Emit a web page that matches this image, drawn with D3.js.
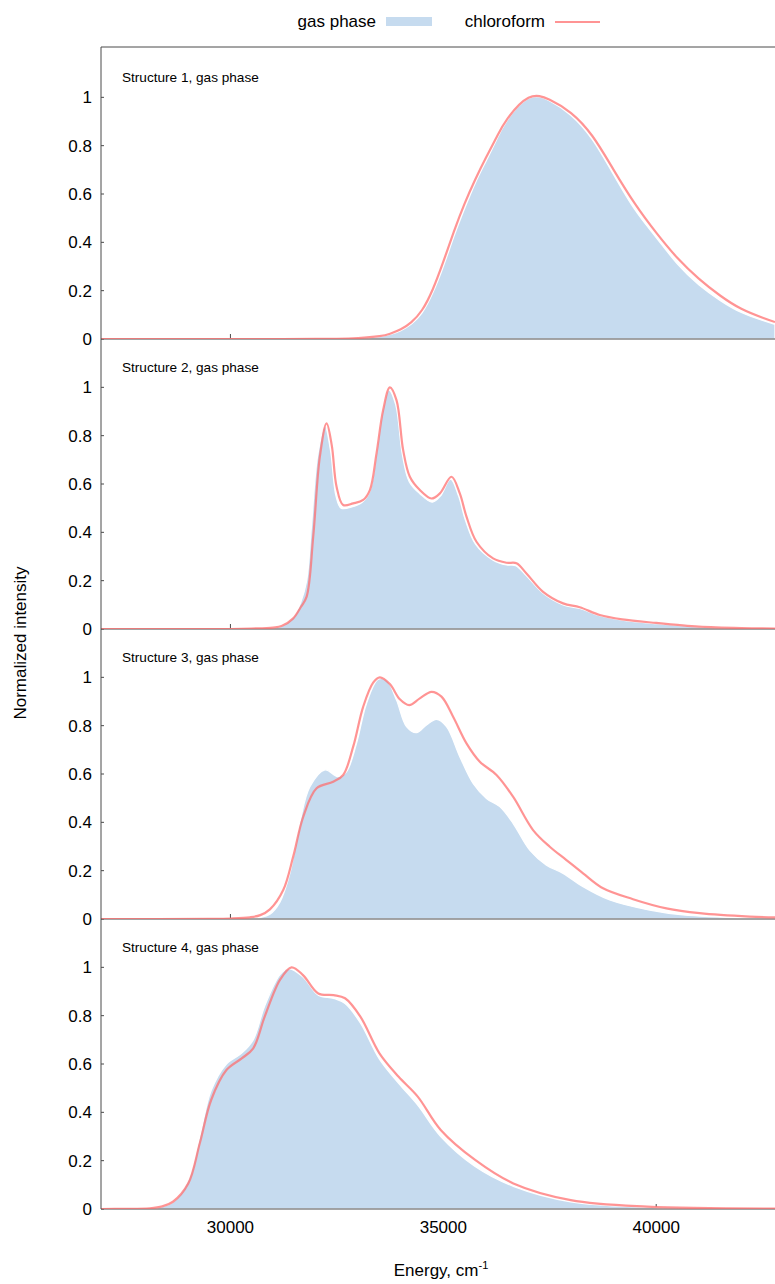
<!DOCTYPE html>
<html><head><meta charset="utf-8">
<script src="https://cdn.jsdelivr.net/npm/d3@7"></script>
<style>body{margin:0;background:#fff}svg{display:block}</style>
</head><body><svg id="c" width="775" height="1284"></svg>
<script>
// ---------------- data ----------------
const panelTitles = ["Structure 1, gas phase","Structure 2, gas phase","Structure 3, gas phase","Structure 4, gas phase"];
const seriesNames = ["gas phase","chloroform"];
const yTicks = [0,0.2,0.4,0.6,0.8,1];
const yTickLabels = ["0","0.2","0.4","0.6","0.8","1"];
const xMajorTicks = [30000,35000,40000];
const xDomain = [26960, 42790];

// Structure 1
const s1E   = [26960,28000,29000,30000,31000,32000,32500,33000,33500,33750,34000,34250,34500,34750,35000,35250,35500,35750,36000,36250,36500,37000,37500,38000,38500,39000,39500,40000,40500,41000,41500,42000,42500,42790];
const s1Gas = [0,0,0,0,0,0.0004,0.001,0.003,0.01,0.019,0.035,0.062,0.108,0.19,0.30,0.425,0.54,0.645,0.735,0.825,0.905,0.995,0.985,0.925,0.825,0.68,0.535,0.42,0.31,0.225,0.16,0.11,0.077,0.06];
const s1Chl = [0,0,0,0,0,0.0005,0.001,0.004,0.012,0.022,0.04,0.07,0.12,0.205,0.32,0.445,0.56,0.66,0.75,0.835,0.91,0.998,0.99,0.935,0.84,0.70,0.56,0.44,0.335,0.25,0.18,0.125,0.088,0.07];

// Structure 2
const s2GasE = [26960,30000,30500,31000,31200,31475,31650,31790,31900,32050,32220,32350,32480,32600,32850,33100,33275,33431,33580,33720,33880,34040,34200,34449,34740,34930,35170,35360,35520,35760,36169,36483,36700,36953,37343,37813,38204,38674,39200,40000,40500,41000,42000,42790];
const s2Gas  = [0,0,0.002,0.006,0.012,0.05,0.11,0.2,0.42,0.72,0.84,0.74,0.55,0.5,0.505,0.525,0.57,0.73,0.91,0.99,0.93,0.72,0.61,0.56,0.525,0.55,0.62,0.55,0.45,0.35,0.285,0.265,0.262,0.22,0.148,0.1,0.085,0.055,0.037,0.022,0.015,0.009,0.003,0.001];
const s2ChlE = [26960,30000,30500,31000,31200,31475,31650,31790,31944,32100,32258,32380,32493,32648,32883,33117,33275,33431,33587,33744,33900,34057,34214,34449,34723,34918,35192,35387,35544,35779,36169,36483,36718,36953,37343,37813,38204,38674,39200,40000,40500,41000,42000,42790];
const s2Chl  = [0,0,0.002,0.006,0.012,0.044,0.09,0.134,0.382,0.713,0.851,0.76,0.589,0.513,0.52,0.534,0.575,0.727,0.906,1.0,0.947,0.74,0.63,0.575,0.54,0.561,0.63,0.561,0.465,0.361,0.292,0.274,0.272,0.23,0.154,0.106,0.09,0.058,0.04,0.025,0.017,0.01,0.004,0.002];

// Structure 3
const s3GasE = [26960,30000,30458,30700,30927,31162,31397,31631,31866,32218,32531,32727,32961,33196,33470,33666,33901,34136,34370,34605,34840,35075,35387,35700,36014,36326,36638,37030,37422,37812,38282,38908,39847,40629,42195,42790];
const s3Gas  = [0,0.001,0.003,0.007,0.02,0.07,0.19,0.40,0.547,0.617,0.589,0.61,0.727,0.892,0.992,0.989,0.906,0.796,0.771,0.803,0.826,0.796,0.672,0.561,0.499,0.465,0.396,0.285,0.223,0.189,0.134,0.079,0.037,0.017,0.004,0.003];
const s3ChlE = [26960,29500,30000,30458,30700,30927,31240,31474,31709,32023,32413,32648,32883,33117,33352,33509,33744,33979,34198,34448,34723,34957,35230,35544,35857,36249,36638,37108,37500,37891,38282,38751,39455,40239,41021,42195,42790];
const s3Chl  = [0,0.0005,0.002,0.007,0.016,0.04,0.12,0.258,0.423,0.541,0.568,0.596,0.713,0.878,0.978,1.0,0.972,0.909,0.885,0.913,0.94,0.92,0.837,0.727,0.651,0.596,0.506,0.368,0.299,0.244,0.189,0.127,0.082,0.044,0.024,0.01,0.007];

// Structure 4
const s4GasE = [26960,27500,28110,28400,28650,29010,29280,29547,29906,30265,30535,30805,31164,31370,31704,32063,32423,32692,33052,33500,33951,34399,34939,35747,36645,37993,39788,42790];
const s4Gas  = [0,0.0005,0.003,0.01,0.028,0.12,0.30,0.49,0.60,0.645,0.70,0.84,0.97,0.995,0.96,0.885,0.872,0.85,0.77,0.62,0.52,0.43,0.30,0.176,0.094,0.03,0.008,0.001];
const s4ChlE = [26960,27500,28110,28400,28650,29010,29280,29547,29906,30265,30535,30805,31164,31434,31704,32063,32423,32692,33052,33500,33951,34399,34939,35747,36645,37993,39788,42790];
const s4Chl  = [0,0.0005,0.003,0.011,0.03,0.106,0.272,0.451,0.575,0.623,0.665,0.796,0.948,1.0,0.968,0.892,0.885,0.872,0.796,0.644,0.547,0.465,0.327,0.203,0.106,0.037,0.01,0.002];

const panels = [
  {title: panelTitles[0], gasE: s1E,    gas: s1Gas, chlE: s1E,    chl: s1Chl, smooth: true},
  {title: panelTitles[1], gasE: s2GasE, gas: s2Gas, chlE: s2ChlE, chl: s2Chl},
  {title: panelTitles[2], gasE: s3GasE, gas: s3Gas, chlE: s3ChlE, chl: s3Chl},
  {title: panelTitles[3], gasE: s4GasE, gas: s4Gas, chlE: s4ChlE, chl: s4Chl}
];

// ---------------- drawing ----------------
const FONT = "'Liberation Sans', Arial, Helvetica, sans-serif";
const fillCol = "#c6dbef", lineCol = "#ff6b6b", axisCol = "#4a4a4a";
const left = 101, right = 775, top0 = 49, panelH = 290;
const svg = d3.select("#c");
const x = d3.scaleLinear().domain(xDomain).range([left, right]);

panels.forEach((p, i) => {
  const curve = p.smooth ? d3.curveNatural : d3.curveCatmullRom.alpha(0.5);
  const yTop = top0 + i * panelH, yBot = yTop + panelH;
  const y = d3.scaleLinear().domain([0, 1.2]).range([yBot, yTop]);
  const g = svg.append("g");
  const clipId = "clip" + i;
  svg.append("clipPath").attr("id", clipId).append("rect")
    .attr("x", left).attr("y", yTop - 2).attr("width", right - left).attr("height", panelH + 2);

  // ticks (under the fill)
  g.selectAll(".mj").data(xMajorTicks).join("line")
    .attr("x1", d => x(d)).attr("x2", d => x(d))
    .attr("y1", yBot).attr("y2", yBot - 5)
    .attr("stroke", axisCol).attr("stroke-width", 1);
  g.selectAll(".yt").data(yTicks).join("line")
    .attr("x1", left).attr("x2", left + 3)
    .attr("y1", d => y(d)).attr("y2", d => y(d))
    .attr("stroke", axisCol).attr("stroke-width", 1);

  const gasData = p.gasE.map((e, k) => [e, p.gas[k]]);
  const chlData = p.chlE.map((e, k) => [e, p.chl[k]]);

  const area = d3.area().curve(curve)
    .x(d => x(d[0])).y0(y(0)).y1(d => y(d[1]));
  g.append("path").datum(gasData).attr("d", area).attr("clip-path", `url(#${clipId})`)
    .attr("fill", fillCol).attr("stroke", "#fff").attr("stroke-width", 1.3);

  // bottom axis line
  g.append("line").attr("x1", left).attr("x2", right)
    .attr("y1", yBot).attr("y2", yBot)
    .attr("stroke", axisCol).attr("stroke-width", 1);

  const line = d3.line().curve(curve)
    .x(d => x(d[0])).y(d => y(d[1]));
  g.append("path").datum(chlData).attr("d", line).attr("clip-path", `url(#${clipId})`)
    .attr("fill", "none").attr("stroke", lineCol).attr("stroke-opacity", 0.72)
    .attr("stroke-width", 2.2);

  // y tick labels
  g.selectAll(".yl").data(yTicks).join("text")
    .attr("x", 92).attr("y", d => y(d)).attr("dy", "0.36em")
    .attr("text-anchor", "end").attr("font-family", FONT).attr("font-size", 17)
    .attr("fill", "#000")
    .text((d, k) => yTickLabels[k]);

  g.append("text").attr("x", 122).attr("y", yTop + 33)
    .attr("font-family", FONT).attr("font-size", 13.6).attr("fill", "#000")
    .text(p.title);
});

// frame: left axis and top border
svg.append("line").attr("x1", left).attr("x2", left).attr("y1", 47).attr("y2", top0 + 4 * panelH)
  .attr("stroke", axisCol).attr("stroke-width", 1);
svg.append("line").attr("x1", left).attr("x2", right).attr("y1", 47).attr("y2", 47)
  .attr("stroke", axisCol).attr("stroke-width", 1);

// x tick labels
const bottomY = top0 + 4 * panelH;
svg.selectAll(".xl").data(xMajorTicks).join("text")
  .attr("x", d => x(d)).attr("y", bottomY + 24)
  .attr("text-anchor", "middle").attr("font-family", FONT).attr("font-size", 17)
  .text(d => d);

// axis titles
const xt = svg.append("text").attr("x", 441).attr("y", 1276)
  .attr("text-anchor", "middle").attr("font-family", FONT).attr("font-size", 17);
xt.append("tspan").text("Energy, cm");
xt.append("tspan").attr("dy", -7).attr("font-size", 11).text("-1");

svg.append("text").attr("transform", "translate(26,643) rotate(-90)")
  .attr("text-anchor", "middle").attr("font-family", FONT).attr("font-size", 17)
  .text("Normalized intensity");

// legend
const lg = svg.append("g").attr("font-family", FONT).attr("font-size", 17);
lg.append("text").attr("x", 376).attr("y", 27).attr("text-anchor", "end").text(seriesNames[0]);
lg.append("rect").attr("x", 386).attr("y", 17).attr("width", 46).attr("height", 9).attr("fill", fillCol);
lg.append("text").attr("x", 545).attr("y", 27).attr("text-anchor", "end").text(seriesNames[1]);
lg.append("line").attr("x1", 555).attr("x2", 600).attr("y1", 22).attr("y2", 22)
  .attr("stroke", lineCol).attr("stroke-opacity", 0.72).attr("stroke-width", 2.2);
</script></body></html>
